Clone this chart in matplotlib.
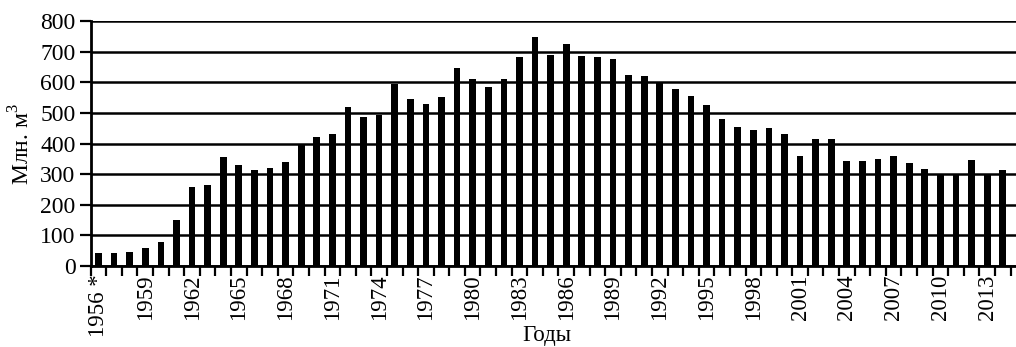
import matplotlib.pyplot as plt

plt.rcParams['font.family'] = ['Liberation Serif', 'DejaVu Serif']
plt.rcParams['mathtext.fontset'] = 'custom'
plt.rcParams['mathtext.rm'] = 'Liberation Serif'

# Годы и объёмы (млн. м3)
years = list(range(1956, 2015))
values = [42, 42, 46, 58, 79, 152, 259, 264, 356, 331,
          315, 320, 340, 395, 421, 432, 521, 487, 493, 595,
          547, 529, 551, 647, 613, 586, 611, 684, 748, 691,
          725, 685, 683, 677, 624, 620, 598, 578, 556, 526,
          479, 455, 445, 452, 431, 360, 414, 414, 342, 342,
          349, 359, 338, 317, 297, 297, 346, 302, 313]
label_years = list(range(1956, 2015, 3))

fig = plt.figure(figsize=(10.16, 3.47), dpi=100)
ax = fig.add_axes([0.0893, 0.2334, 0.9107, 0.7052])

x = list(range(len(years)))
ax.bar(x, values, width=0.43, color='black', zorder=3)

ax.set_ylim(0, 800)
ax.set_xlim(-0.5, len(years) - 0.15)
ax.set_yticks(range(0, 801, 100))
ax.yaxis.grid(True, color='black', linewidth=1.8, zorder=0)
ax.set_axisbelow(True)

# деления между столбиками, подписи под столбиками
ax.set_xticks([i - 0.5 for i in range(len(years) + 1)])
ax.set_xticklabels([])
ax.tick_params(axis='x', which='major', direction='out', length=7, width=1.6)
pos = [years.index(y) for y in label_years]
labels = [str(y) for y in label_years]
labels[0] = '1956 *'
ax.set_xticks(pos, minor=True)
ax.set_xticklabels(labels, minor=True, rotation=90, fontsize=16.5)
ax.tick_params(axis='x', which='minor', length=0, pad=6)
ax.tick_params(axis='y', direction='out', length=8, width=1.6, labelsize=17, pad=3)

for s in ['top', 'right']:
    ax.spines[s].set_visible(False)
ax.spines['left'].set_linewidth(2)
ax.spines['bottom'].set_linewidth(2)

ax.set_ylabel('Млн. м$^3$', fontsize=17)
ax.yaxis.set_label_coords(-0.061, 0.5)
fig.text(547 / 1016, 1 - 336 / 347, 'Годы', fontsize=16.5, ha='center', va='center')

fig.savefig('out.png', dpi=100)
